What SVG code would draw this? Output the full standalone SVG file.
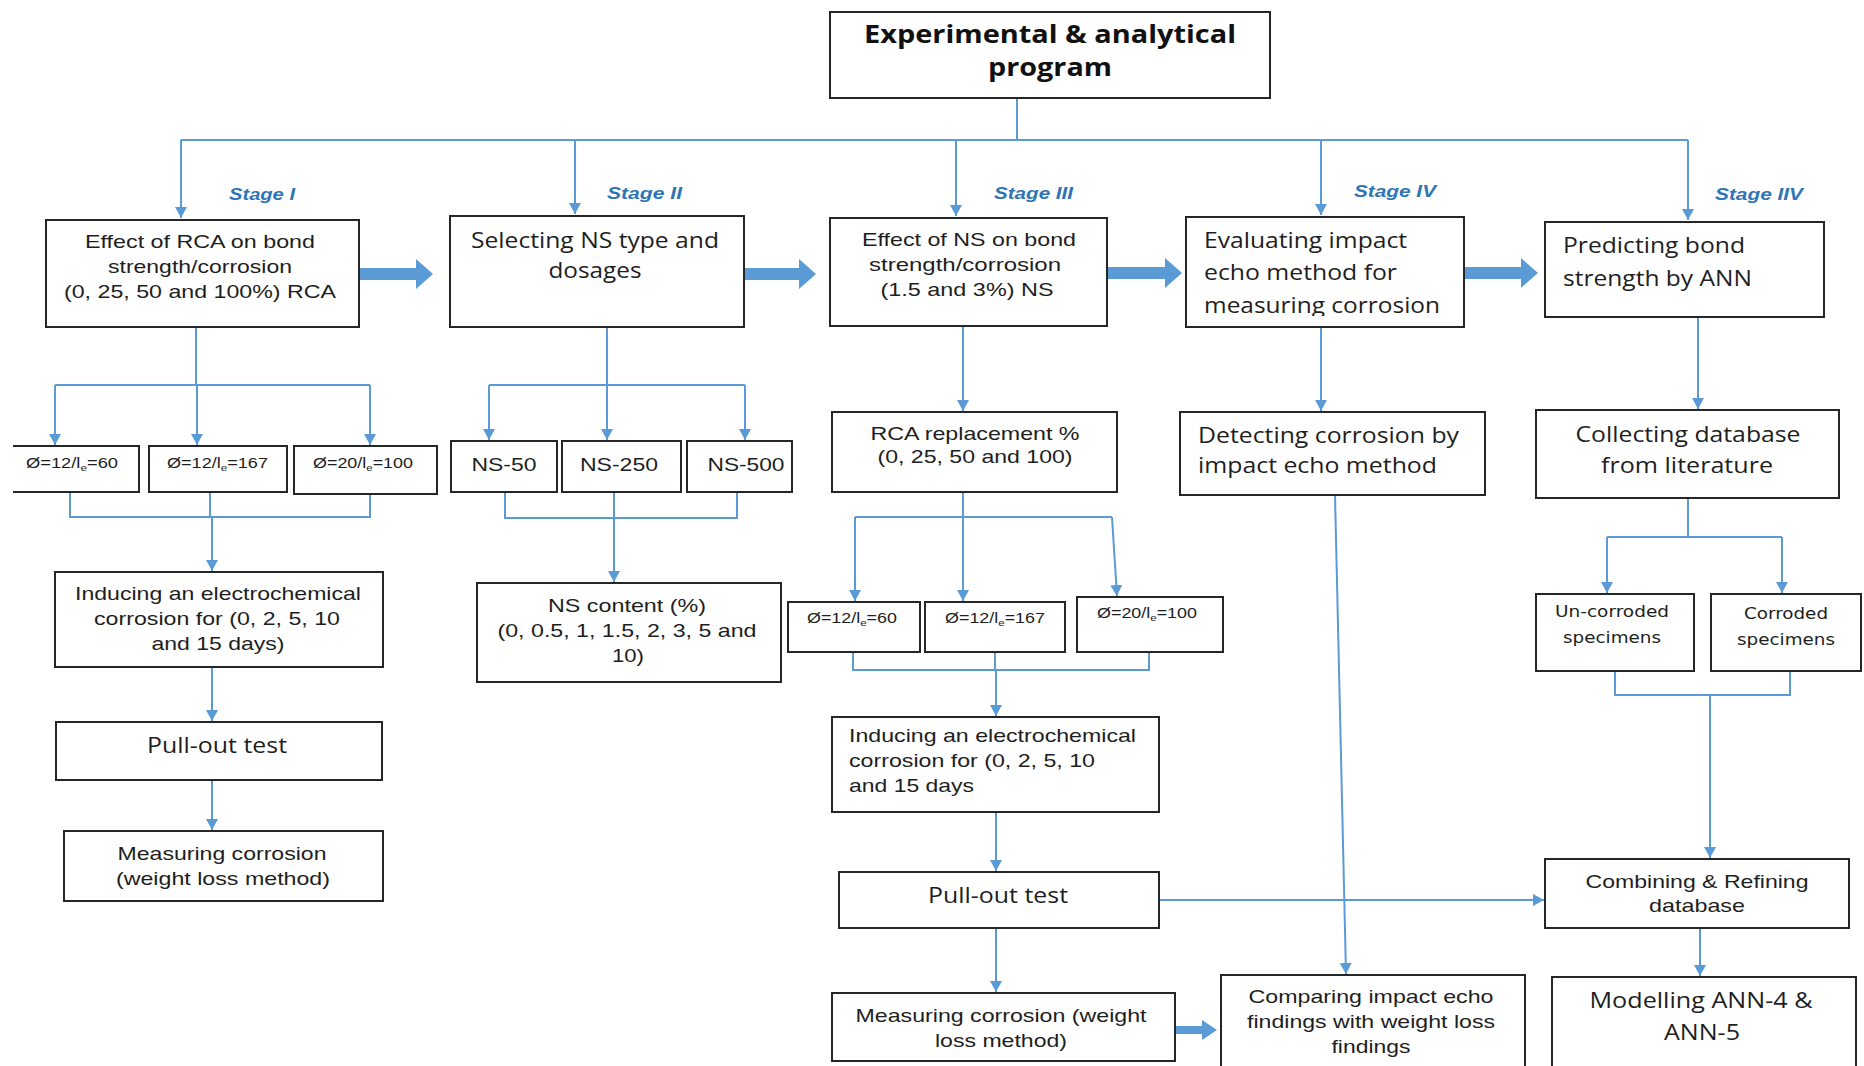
<svg xmlns="http://www.w3.org/2000/svg" width="1864" height="1066" viewBox="0 0 1864 1066">
<style>
.bx{fill:#fff;stroke:#262626;stroke-width:2}
.ln{fill:none;stroke:#5b9bd5;stroke-width:2}
.ar{fill:none;stroke:#5b9bd5;stroke-width:2;marker-end:url(#ah)}
.th{fill:#5b9bd5}
.a{font-family:"Liberation Sans",Arial,sans-serif;font-size:19px;fill:#1e1e1e}
.c{font-family:"Open Sans","Liberation Sans",sans-serif;font-size:22px;fill:#1e1e1e}
.t{font-family:"Open Sans","Liberation Sans",sans-serif;font-size:25px;font-weight:bold;fill:#111}
.s{font-family:"Liberation Sans",Arial,sans-serif;font-size:16px;font-weight:bold;font-style:italic;fill:#2e75b6}
.m{font-family:"Liberation Sans",Arial,sans-serif;font-size:14px;fill:#1e1e1e}
.g{font-family:"DejaVu Sans",sans-serif;font-size:15px;fill:#1e1e1e}
.mid{text-anchor:middle}
</style>
<defs>
<marker id="ah" markerUnits="userSpaceOnUse" markerWidth="12" markerHeight="12" refX="11" refY="6" orient="auto">
<path d="M0,0 L11,6 L0,12 z" fill="#5b9bd5"/>
</marker>
<clipPath id="evalclip"><rect x="1186" y="290" width="278" height="26"/></clipPath>
</defs>
<rect width="1864" height="1066" fill="#fff"/>

<g id="connectors">
<path class="ln" d="M1017,98 V140 M181,140 H1688"/>
<path class="ar" d="M181,140 V218"/>
<path class="ar" d="M575,140 V214"/>
<path class="ar" d="M956,140 V216"/>
<path class="ar" d="M1321,140 V215"/>
<path class="ar" d="M1688,140 V220"/>
<path class="ln" d="M196,327 V385 M55,385 H370"/>
<path class="ar" d="M55,385 V445"/>
<path class="ar" d="M197,385 V445"/>
<path class="ar" d="M370,385 V445"/>
<path class="ln" d="M70,492 V517 H370 V494 M210,492 V517"/>
<path class="ar" d="M212,517 V571"/>
<path class="ar" d="M212,667 V721"/>
<path class="ar" d="M212,780 V830"/>
<path class="ln" d="M607,327 V385 M489,385 H745"/>
<path class="ar" d="M489,385 V440"/>
<path class="ar" d="M607,385 V440"/>
<path class="ar" d="M745,385 V440"/>
<path class="ln" d="M505,492 V518 H737 V492"/>
<path class="ar" d="M614,492 V582"/>
<path class="ar" d="M963,326 V411"/>
<path class="ln" d="M855,517 H1112"/>
<path class="ar" d="M963,492 V601"/>
<path class="ar" d="M855,517 V601"/>
<path class="ar" d="M1112,517 L1117,596"/>
<path class="ln" d="M853,652 V670 H1149 V652 M995,652 V670"/>
<path class="ar" d="M996,670 V716"/>
<path class="ar" d="M996,812 V871"/>
<path class="ar" d="M996,928 V992"/>
<path class="ar" d="M1159,900 H1544"/>
<path class="ar" d="M1321,327 V411"/>
<path class="ar" d="M1335,495 L1346,974"/>
<path class="ar" d="M1698,317 V409"/>
<path class="ln" d="M1688,498 V537 M1607,537 H1782"/>
<path class="ar" d="M1607,537 V593"/>
<path class="ar" d="M1782,537 V593"/>
<path class="ln" d="M1615,671 V695 H1790 V671"/>
<path class="ar" d="M1710,695 V858"/>
<path class="ar" d="M1700,928 V976"/>
<path class="th" d="M359,268 H416 V259 L433,274 L416,289 V280 H359 z"/>
<path class="th" d="M743,268 H799 V259 L816,274 L799,289 V280 H743 z"/>
<path class="th" d="M1107,267 H1165 V258 L1182,273 L1165,288 V279 H1107 z"/>
<path class="th" d="M1464,267 H1521 V258 L1538,273 L1521,288 V279 H1464 z"/>
<path class="th" d="M1175,1026 H1202 V1020 L1217,1030 L1202,1040 V1034 H1175 z"/>
</g>

<g id="n-top">
<rect class="bx" x="830" y="12" width="440" height="86"/>
<text class="t mid" x="1050" y="43" textLength="372" lengthAdjust="spacingAndGlyphs">Experimental &amp; analytical</text>
<text class="t mid" x="1050" y="76" textLength="124" lengthAdjust="spacingAndGlyphs">program</text>
</g>

<g id="stage-labels">
<text class="s" x="229" y="200" textLength="66" lengthAdjust="spacingAndGlyphs">Stage I</text>
<text class="s" x="607" y="199" textLength="75" lengthAdjust="spacingAndGlyphs">Stage II</text>
<text class="s" x="994" y="199" textLength="79" lengthAdjust="spacingAndGlyphs">Stage III</text>
<text class="s" x="1354" y="197" textLength="82" lengthAdjust="spacingAndGlyphs">Stage IV</text>
<text class="s" x="1715" y="200" textLength="88" lengthAdjust="spacingAndGlyphs">Stage IIV</text>
</g>

<g id="n-stage1">
<rect class="bx" x="46" y="220" width="313" height="107"/>
<text class="a mid" x="200" y="248" textLength="230" lengthAdjust="spacingAndGlyphs">Effect of RCA on bond</text>
<text class="a mid" x="200" y="273" textLength="184" lengthAdjust="spacingAndGlyphs">strength/corrosion</text>
<text class="a mid" x="200" y="298" textLength="272" lengthAdjust="spacingAndGlyphs">(0, 25, 50 and 100%) RCA</text>
</g>

<g id="n-stage2">
<rect class="bx" x="450" y="216" width="294" height="111"/>
<text class="c mid" x="595" y="248" textLength="248" lengthAdjust="spacingAndGlyphs">Selecting NS type and</text>
<text class="c mid" x="595" y="278" textLength="93" lengthAdjust="spacingAndGlyphs">dosages</text>
</g>

<g id="n-stage3">
<rect class="bx" x="830" y="218" width="277" height="108"/>
<text class="a mid" x="969" y="246" textLength="214" lengthAdjust="spacingAndGlyphs">Effect of NS on bond</text>
<text class="a mid" x="965" y="271" textLength="192" lengthAdjust="spacingAndGlyphs">strength/corrosion</text>
<text class="a mid" x="967" y="296" textLength="173" lengthAdjust="spacingAndGlyphs">(1.5 and 3%) NS</text>
</g>

<g id="n-stage4">
<rect class="bx" x="1186" y="217" width="278" height="110"/>
<text class="c" x="1204" y="248" textLength="203" lengthAdjust="spacingAndGlyphs">Evaluating impact</text>
<text class="c" x="1204" y="280" textLength="193" lengthAdjust="spacingAndGlyphs">echo method for</text>
<text class="c" x="1204" y="313" textLength="236" lengthAdjust="spacingAndGlyphs" clip-path="url(#evalclip)">measuring corrosion</text>
</g>

<g id="n-stage5">
<rect class="bx" x="1545" y="222" width="279" height="95"/>
<text class="c" x="1563" y="253" textLength="182" lengthAdjust="spacingAndGlyphs">Predicting bond</text>
<text class="c" x="1563" y="286" textLength="189" lengthAdjust="spacingAndGlyphs">strength by ANN</text>
</g>

<g id="n-s1-b1">
<path class="bx" d="M13,446 H139 V492 H13"/>
<text class="m" x="26" y="468" textLength="92" lengthAdjust="spacingAndGlyphs">Ø=12/l<tspan font-size="9" dy="3">e</tspan><tspan dy="-3">=60</tspan></text>
</g>
<g id="n-s1-b2">
<rect class="bx" x="149" y="446" width="138" height="46"/>
<text class="m" x="167" y="468" textLength="101" lengthAdjust="spacingAndGlyphs">Ø=12/l<tspan font-size="9" dy="3">e</tspan><tspan dy="-3">=167</tspan></text>
</g>
<g id="n-s1-b3">
<rect class="bx" x="294" y="446" width="143" height="48"/>
<text class="m" x="313" y="468" textLength="100" lengthAdjust="spacingAndGlyphs">Ø=20/l<tspan font-size="9" dy="3">e</tspan><tspan dy="-3">=100</tspan></text>
</g>

<g id="n-ns50">
<rect class="bx" x="451" y="441" width="106" height="51"/>
<text class="a mid" x="504" y="471" textLength="65" lengthAdjust="spacingAndGlyphs">NS-50</text>
</g>
<g id="n-ns250">
<rect class="bx" x="562" y="441" width="119" height="51"/>
<text class="a mid" x="619" y="471" textLength="78" lengthAdjust="spacingAndGlyphs">NS-250</text>
</g>
<g id="n-ns500">
<rect class="bx" x="687" y="441" width="105" height="51"/>
<text class="a mid" x="746" y="471" textLength="77" lengthAdjust="spacingAndGlyphs">NS-500</text>
</g>

<g id="n-induce1">
<rect class="bx" x="55" y="572" width="328" height="95"/>
<text class="a mid" x="218" y="600" textLength="286" lengthAdjust="spacingAndGlyphs">Inducing an electrochemical</text>
<text class="a mid" x="217" y="625" textLength="246" lengthAdjust="spacingAndGlyphs">corrosion for (0, 2, 5, 10</text>
<text class="a mid" x="218" y="650" textLength="133" lengthAdjust="spacingAndGlyphs">and 15 days)</text>
</g>

<g id="n-nscontent">
<rect class="bx" x="477" y="583" width="304" height="99"/>
<text class="a mid" x="627" y="612" textLength="158" lengthAdjust="spacingAndGlyphs">NS content (%)</text>
<text class="a mid" x="627" y="637" textLength="259" lengthAdjust="spacingAndGlyphs">(0, 0.5, 1, 1.5, 2, 3, 5 and</text>
<text class="a mid" x="628" y="662" textLength="32" lengthAdjust="spacingAndGlyphs">10)</text>
</g>

<g id="n-rca">
<rect class="bx" x="832" y="412" width="285" height="80"/>
<text class="a mid" x="975" y="440" textLength="209" lengthAdjust="spacingAndGlyphs">RCA replacement %</text>
<text class="a mid" x="975" y="463" textLength="195" lengthAdjust="spacingAndGlyphs">(0, 25, 50 and 100)</text>
</g>

<g id="n-detect">
<rect class="bx" x="1180" y="412" width="305" height="83"/>
<text class="c" x="1198" y="443" textLength="261" lengthAdjust="spacingAndGlyphs">Detecting corrosion by</text>
<text class="c" x="1198" y="473" textLength="239" lengthAdjust="spacingAndGlyphs">impact echo method</text>
</g>

<g id="n-collect">
<rect class="bx" x="1536" y="410" width="303" height="88"/>
<text class="c mid" x="1688" y="442" textLength="225" lengthAdjust="spacingAndGlyphs">Collecting database</text>
<text class="c mid" x="1687" y="473" textLength="172" lengthAdjust="spacingAndGlyphs">from literature</text>
</g>

<g id="n-s3-b1">
<rect class="bx" x="788" y="602" width="132" height="50"/>
<text class="m" x="807" y="623" textLength="90" lengthAdjust="spacingAndGlyphs">Ø=12/l<tspan font-size="9" dy="3">e</tspan><tspan dy="-3">=60</tspan></text>
</g>
<g id="n-s3-b2">
<rect class="bx" x="925" y="602" width="140" height="50"/>
<text class="m" x="945" y="623" textLength="100" lengthAdjust="spacingAndGlyphs">Ø=12/l<tspan font-size="9" dy="3">e</tspan><tspan dy="-3">=167</tspan></text>
</g>
<g id="n-s3-b3">
<rect class="bx" x="1077" y="597" width="146" height="55"/>
<text class="m" x="1097" y="618" textLength="100" lengthAdjust="spacingAndGlyphs">Ø=20/l<tspan font-size="9" dy="3">e</tspan><tspan dy="-3">=100</tspan></text>
</g>

<g id="n-uncorroded">
<rect class="bx" x="1536" y="594" width="158" height="77"/>
<text class="g mid" x="1612" y="617" textLength="114" lengthAdjust="spacingAndGlyphs">Un-corroded</text>
<text class="g mid" x="1612" y="643" textLength="98" lengthAdjust="spacingAndGlyphs">specimens</text>
</g>
<g id="n-corroded">
<rect class="bx" x="1711" y="594" width="150" height="77"/>
<text class="g mid" x="1786" y="619" textLength="84" lengthAdjust="spacingAndGlyphs">Corroded</text>
<text class="g mid" x="1786" y="645" textLength="98" lengthAdjust="spacingAndGlyphs">specimens</text>
</g>

<g id="n-induce2">
<rect class="bx" x="832" y="717" width="327" height="95"/>
<text class="a" x="849" y="742" textLength="287" lengthAdjust="spacingAndGlyphs">Inducing an electrochemical</text>
<text class="a" x="849" y="767" textLength="246" lengthAdjust="spacingAndGlyphs">corrosion for (0, 2, 5, 10</text>
<text class="a" x="849" y="792" textLength="125" lengthAdjust="spacingAndGlyphs">and 15 days</text>
</g>

<g id="n-pull1">
<rect class="bx" x="56" y="722" width="326" height="58"/>
<text class="c mid" x="217" y="753" textLength="140" lengthAdjust="spacingAndGlyphs">Pull-out test</text>
</g>

<g id="n-measure1">
<rect class="bx" x="64" y="831" width="319" height="70"/>
<text class="a mid" x="222" y="860" textLength="209" lengthAdjust="spacingAndGlyphs">Measuring corrosion</text>
<text class="a mid" x="223" y="885" textLength="214" lengthAdjust="spacingAndGlyphs">(weight loss method)</text>
</g>

<g id="n-pull2">
<rect class="bx" x="839" y="872" width="320" height="56"/>
<text class="c mid" x="998" y="903" textLength="140" lengthAdjust="spacingAndGlyphs">Pull-out test</text>
</g>

<g id="n-measure2">
<rect class="bx" x="832" y="993" width="343" height="68"/>
<text class="a mid" x="1001" y="1022" textLength="291" lengthAdjust="spacingAndGlyphs">Measuring corrosion (weight</text>
<text class="a mid" x="1001" y="1047" textLength="132" lengthAdjust="spacingAndGlyphs">loss method)</text>
</g>

<g id="n-combine">
<rect class="bx" x="1545" y="859" width="304" height="69"/>
<text class="a mid" x="1697" y="888" textLength="223" lengthAdjust="spacingAndGlyphs">Combining &amp; Refining</text>
<text class="a mid" x="1697" y="912" textLength="96" lengthAdjust="spacingAndGlyphs">database</text>
</g>

<g id="n-compare">
<rect class="bx" x="1221" y="975" width="304" height="95"/>
<text class="a mid" x="1371" y="1003" textLength="245" lengthAdjust="spacingAndGlyphs">Comparing impact echo</text>
<text class="a mid" x="1371" y="1028" textLength="248" lengthAdjust="spacingAndGlyphs">findings with weight loss</text>
<text class="a mid" x="1371" y="1053" textLength="79" lengthAdjust="spacingAndGlyphs">findings</text>
</g>

<g id="n-model">
<rect class="bx" x="1552" y="977" width="304" height="93"/>
<text class="c mid" x="1701" y="1008" font-size="25" textLength="223" lengthAdjust="spacingAndGlyphs">Modelling ANN-4 &amp;</text>
<text class="c mid" x="1702" y="1040" font-size="25" textLength="76" lengthAdjust="spacingAndGlyphs">ANN-5</text>
</g>
</svg>
